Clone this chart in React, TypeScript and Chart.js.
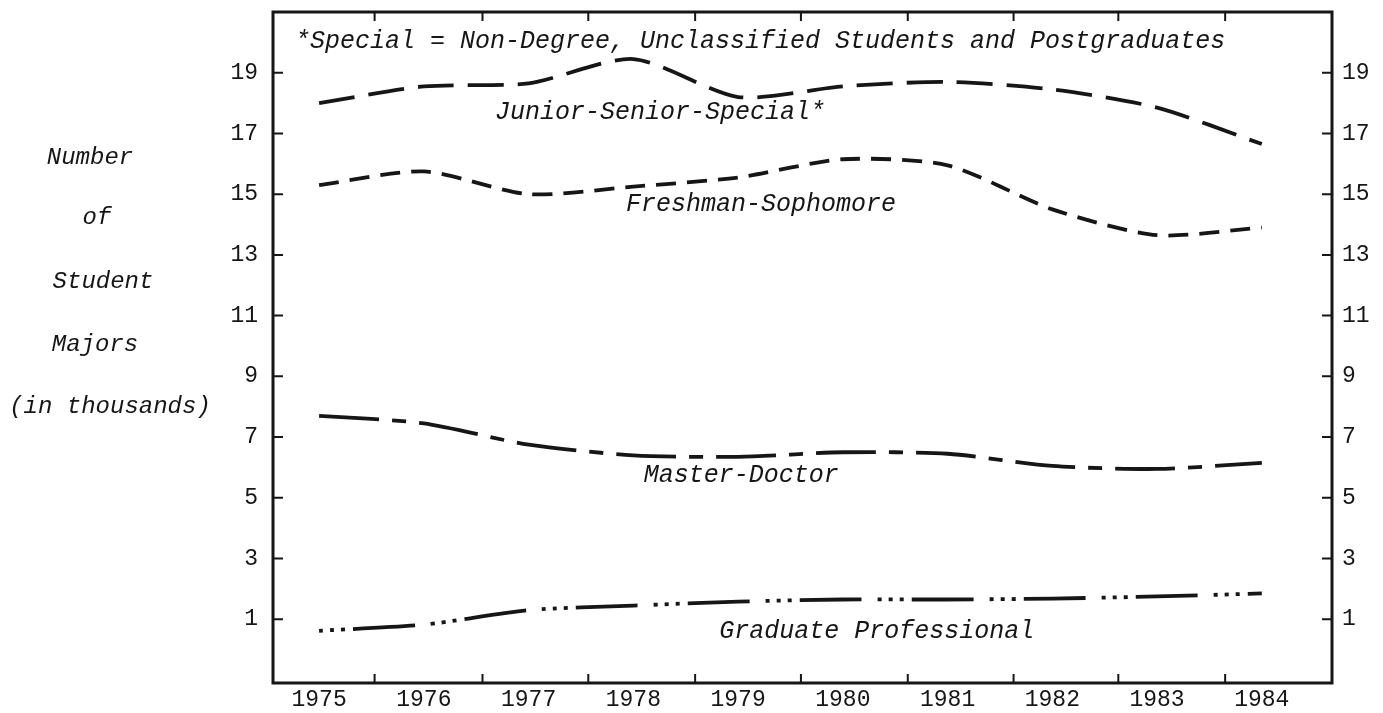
import React, { useEffect, useRef } from "react";
import { Chart, registerables } from "chart.js";

Chart.register(...registerables);

// ---- data ----
const years = [1975, 1976, 1977, 1978, 1979, 1980, 1981, 1982, 1983, 1984];
const juniorSeniorSpecial = [18.0, 18.55, 18.65, 19.45, 18.2, 18.55, 18.7, 18.45, 17.85, 16.65];
const freshmanSophomore = [15.3, 15.75, 15.0, 15.25, 15.55, 16.15, 15.95, 14.5, 13.65, 13.9];
const masterDoctor = [7.7, 7.45, 6.75, 6.4, 6.35, 6.5, 6.45, 6.05, 5.95, 6.15];
const graduateProfessional = [0.62, 0.82, 1.3, 1.45, 1.58, 1.65, 1.65, 1.68, 1.75, 1.85];

const seriesNames = [
  "Junior-Senior-Special*",
  "Freshman-Sophomore",
  "Master-Doctor",
  "Graduate Professional",
];
const yTickValues = [1, 3, 5, 7, 9, 11, 13, 15, 17, 19];
const xTickLabels = years.map((y) => String(y));
const xMinorTicks = [1975.53, 1976.56, 1977.57, 1978.59, 1979.6, 1980.62, 1981.63, 1982.63, 1983.65];
const yTitleLines = ["Number", "of", "Student", "Majors", "(in thousands)"];
const footnote = "*Special = Non-Degree, Unclassified Students and Postgraduates";

const MONO = '"Liberation Mono", "Courier New", monospace';
const INK = "#161616";

// label anchor positions (in data units) for series names
const seriesLabelAnchors = [
  { x: 1976.68, y: 17.68 },
  { x: 1977.93, y: 14.65 },
  { x: 1978.1, y: 5.75 },
  { x: 1978.82, y: 0.6 },
];
const footnoteAnchor = { x: 1974.77, y: 20.02 };
const yTitlePixels = [
  { x: 90, y: 158 },
  { x: 97, y: 218 },
  { x: 103, y: 282 },
  { x: 95, y: 345 },
  { x: 110, y: 407 },
];

const decorPlugin = {
  id: "decor",
  afterDraw(chart: any) {
    const ctx = chart.ctx;
    const { left, right, top, bottom } = chart.chartArea;
    const xs = chart.scales.x;
    const ys = chart.scales.y;
    ctx.save();
    ctx.strokeStyle = INK;
    ctx.lineWidth = 3;
    ctx.beginPath();
    ctx.moveTo(left, top);
    ctx.lineTo(right, top);
    ctx.lineTo(right, bottom);
    ctx.lineTo(left, bottom);
    ctx.closePath();
    ctx.stroke();

    ctx.lineWidth = 2;
    ctx.beginPath();
    for (const v of yTickValues) {
      const py = ys.getPixelForValue(v);
      ctx.moveTo(left, py);
      ctx.lineTo(left + 10, py);
      ctx.moveTo(right, py);
      ctx.lineTo(right - 10, py);
    }
    for (const v of xMinorTicks) {
      const px = xs.getPixelForValue(v);
      ctx.moveTo(px, bottom);
      ctx.lineTo(px, bottom - 9);
      ctx.moveTo(px, top);
      ctx.lineTo(px, top + 9);
    }
    ctx.stroke();

    ctx.fillStyle = INK;
    ctx.textBaseline = "middle";
    ctx.font = `italic 25px ${MONO}`;
    ctx.textAlign = "left";
    ctx.fillText(footnote, xs.getPixelForValue(footnoteAnchor.x), ys.getPixelForValue(footnoteAnchor.y));
    seriesNames.forEach((name, i) => {
      const a = seriesLabelAnchors[i];
      ctx.fillText(name, xs.getPixelForValue(a.x), ys.getPixelForValue(a.y));
    });

    ctx.font = `italic 24px ${MONO}`;
    ctx.textAlign = "center";
    yTitleLines.forEach((line, i) => {
      const p = yTitlePixels[i];
      ctx.fillText(line, p.x, p.y);
    });
    ctx.restore();
  },
};

export default function App() {
  const ref = useRef<HTMLCanvasElement | null>(null);

  useEffect(() => {
    if (!ref.current) return;
    const mk = (vals: number[]) => years.map((x, i) => ({ x, y: vals[i] }));
    const base = {
      borderColor: INK,
      borderWidth: 3.8,
      pointRadius: 0,
      fill: false,
      tension: 0.25,
      borderCapStyle: "butt" as const,
    };
    const tickFont = { family: MONO, size: 23 };
    const noPadV = (s: any) => {
      s.paddingTop = 0;
      s.paddingBottom = 0;
    };
    const chart = new Chart(ref.current, {
      type: "line",
      data: {
        datasets: [
          { ...base, label: seriesNames[0], data: mk(juniorSeniorSpecial), borderDash: [36, 14] },
          { ...base, label: seriesNames[1], data: mk(freshmanSophomore), borderDash: [20, 11] },
          { ...base, label: seriesNames[2], data: mk(masterDoctor), borderDash: [60, 13, 14, 13] },
          {
            ...base,
            label: seriesNames[3],
            data: mk(graduateProfessional),
            borderDash: [4, 7, 4, 7, 4, 8, 62, 16],
          },
        ],
      },
      options: {
        animation: false,
        responsive: true,
        maintainAspectRatio: false,
        layout: { padding: { top: 12, left: 0, right: 0, bottom: 0 } },
        plugins: { legend: { display: false }, tooltip: { enabled: false } },
        scales: {
          x: {
            type: "linear",
            min: 1974.56,
            max: 1984.67,
            afterBuildTicks: (s: any) => {
              s.ticks = years.map((v) => ({ value: v }));
            },
            afterFit: (s: any) => {
              s.height = 30;
              s.paddingLeft = 0;
              s.paddingRight = 0;
            },
            ticks: {
              autoSkip: false,
              maxRotation: 0,
              padding: 3,
              color: INK,
              font: tickFont,
              callback: (v: any) => xTickLabels[years.indexOf(Number(v))] ?? String(v),
            },
            grid: { display: false, drawTicks: false },
            border: { display: false },
          },
          y: {
            type: "linear",
            position: "left",
            min: -1.1,
            max: 21,
            afterBuildTicks: (s: any) => {
              s.ticks = yTickValues.map((v) => ({ value: v }));
            },
            afterFit: (s: any) => {
              s.width = 273;
              noPadV(s);
            },
            ticks: { padding: 15, color: INK, font: tickFont },
            grid: { display: false, drawTicks: false },
            border: { display: false },
          },
          y2: {
            type: "linear",
            position: "right",
            display: true,
            min: -1.1,
            max: 21,
            afterBuildTicks: (s: any) => {
              s.ticks = yTickValues.map((v) => ({ value: v }));
            },
            afterFit: (s: any) => {
              s.width = 51;
              noPadV(s);
            },
            ticks: { padding: 10, color: INK, font: tickFont },
            grid: { display: false, drawTicks: false },
            border: { display: false },
          },
        },
      },
      plugins: [decorPlugin],
    });
    return () => chart.destroy();
  }, []);

  return (
    <div style={{ position: "absolute", left: 0, top: 0, width: 1383, height: 713, background: "#fff" }}>
      <canvas ref={ref} />
    </div>
  );
}
